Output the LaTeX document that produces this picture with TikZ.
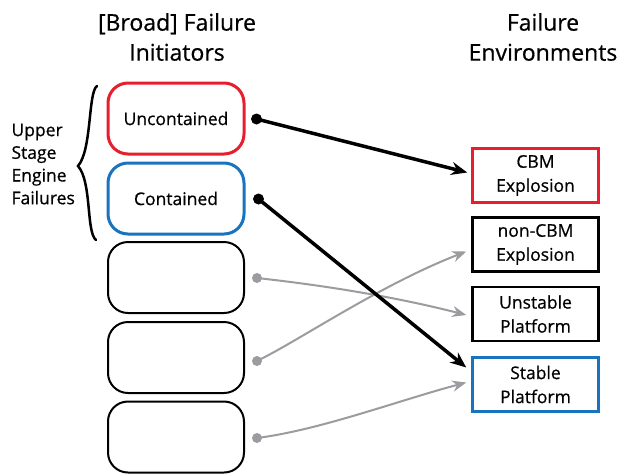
\documentclass[tikz,border=0pt]{standalone}
\usepackage{fontspec}
\setmainfont{Open Sans}[FakeBold=0.6]
\usetikzlibrary{arrows.meta,calc}
\definecolor{bred}{RGB}{230,30,45}
\definecolor{bblue}{RGB}{25,115,190}
\definecolor{lgray}{RGB}{155,155,160}
\begin{document}
\begin{tikzpicture}[x=1pt,y=-1pt,
  ibox/.style={draw, rounded corners=20pt, minimum width=136pt, minimum height=71pt, line width=2pt, inner sep=0pt, font=\fontsize{17.5}{20}\selectfont},
  ebox/.style={draw, minimum width=126pt, minimum height=54pt, line width=2.5pt, inner sep=0pt, align=center, font=\fontsize{17.5}{24}\selectfont},
  bdot/.style={circle, fill=black, inner sep=0pt, minimum size=11pt},
  gdot/.style={circle, fill=lgray, inner sep=0pt, minimum size=10pt},
  barrow/.style={line width=3.5pt, -{Stealth[length=16pt,width=13pt]}},
  garrow/.style={line width=2pt, draw=lgray, -{Stealth[length=14pt,width=11pt]}},
  title/.style={align=center, font=\fontsize{23}{30}\selectfont}]
\useasboundingbox (0,0) rectangle (621,475);
\node[title] (t1) at (177,37) {[Broad] Failure\\Initiators};
\node[title] (t2) at (543,37) {Failure\\Environments};
\node[ibox, draw=bred, line width=3pt] (b1) at (176,118.5) {Uncontained};
\node[ibox, draw=bblue, line width=3pt] (b2) at (176,198.5) {Contained};
\node[ibox] (b3) at (176,277.5) {};
\node[ibox] (b4) at (176,357.5) {};
\node[ibox] (b5) at (176,437) {};
\node[ebox, draw=bred] (e1) at (535.5,175.5) {CBM\\Explosion};
\node[ebox] (e2) at (535.5,244.5) {non-CBM\\Explosion};
\node[ebox] (e3) at (535.5,314) {Unstable\\Platform};
\node[ebox, draw=bblue] (e4) at (535.5,384.5) {Stable\\Platform};
\node[align=left, anchor=west, font=\fontsize{17.5}{22.7}\selectfont] (usef) at (8,164) {Upper\\Stage\\Engine\\Failures};
\draw[line width=2.5pt, line cap=round] (97,86) .. controls (88,92) and (92,150) .. (78,166) .. controls (92,182) and (86,232) .. (96,240);
\node[bdot] (d1) at ($(b1.east)+(11,0.5)$) {};
\node[bdot] (d2) at ($(b2.east)+(13,0.5)$) {};
\node[gdot] (d3) at ($(b3.east)+(12,0.5)$) {};
\node[gdot] (d4) at ($(b4.east)+(12,3.5)$) {};
\node[gdot] (d5) at ($(b5.east)+(12,1)$) {};
\coordinate (a1) at ($(e1.west)+(-4,-3)$);
\coordinate (a2) at ($(e2.west)+(-5,7)$);
\coordinate (a3) at ($(e3.west)+(-5,1)$);
\coordinate (a4) at ($(e4.west)+(-5,-17)$);
\coordinate (a5) at ($(e4.west)+(-5,-2)$);
\draw[garrow] (d3.center) .. controls (330,286) and (400,298) .. (a3);
\draw[garrow] (d4.center) .. controls (300,340) and (380,285) .. (a2);
\draw[garrow] (d5.center) .. controls (320,430) and (400,400) .. (a5);
\draw[barrow] (d1.center) -- (a1);
\draw[barrow] (d2.center) -- (a4);
\end{tikzpicture}
\end{document}
